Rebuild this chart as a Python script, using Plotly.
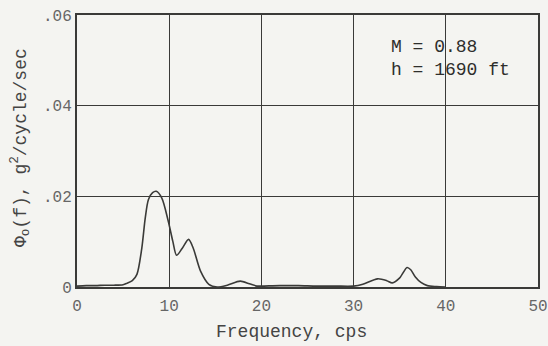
import plotly.graph_objects as go

freq = [0, 1, 2, 3, 4, 5, 5.4, 6.0, 6.5, 7.03, 7.4, 7.75, 8.2, 8.6, 9.2, 9.9, 10.4, 10.8, 11.4, 12.1, 12.6, 13.4, 14.3, 15.2, 16.3, 17.7, 18.7, 19.5, 20, 22, 24, 26, 28, 30, 31, 32.6, 33.6, 34.2, 35.0, 35.8, 36.2, 36.7, 37.3, 38, 39, 40]
psd = [0.0002, 0.0003, 0.0003, 0.0004, 0.0004, 0.0005, 0.0008, 0.0014, 0.0028, 0.0086, 0.0152, 0.0193, 0.0208, 0.0211, 0.0196, 0.0145, 0.0100, 0.0070, 0.0085, 0.0105, 0.0086, 0.0035, 0.0006, 0.0000, 0.0004, 0.0013, 0.0007, 0.0002, 0.0002, 0.0003, 0.0003, 0.0002, 0.0002, 0.0002, 0.0006, 0.0018, 0.0014, 0.0009, 0.0020, 0.0043, 0.0038, 0.0022, 0.0010, 0.0003, 0.0001, 0.0000]

x_ticks = [0, 10, 20, 30, 40, 50]
y_ticks = [0, 0.02, 0.04, 0.06]
y_labels = ["0", ".02", ".04", ".06"]

ink = "#3a3a38"
font = "Liberation Mono, DejaVu Sans Mono, monospace"

W, H = 548, 346
L, R, T, B = 77, 10, 15, 59
pw, ph = W - L - R, H - T - B

fig = go.Figure()
fig.add_trace(go.Scatter(x=freq, y=psd, mode="lines",
                         line=dict(color=ink, width=1.6, shape="spline", smoothing=0.8),
                         showlegend=False, cliponaxis=False))

fig.add_annotation(x=33.8, y=0.0555, xref="x", yref="y", xanchor="left", yanchor="top",
                   text="M = 0.88<br>h = 1690 ft", showarrow=False, align="left",
                   font=dict(family=font, size=18, color="#2e2e2c"))

fig.add_annotation(x=(291 - L) / pw, y=(H - B - 332) / ph, xref="paper", yref="paper",
                   text="Frequency, cps",
                   showarrow=False, font=dict(family=font, size=18, color="#444"),
                   xanchor="center", yanchor="middle")
fig.add_annotation(x=(20 - L) / pw, y=(H - B - 148) / ph, xref="paper", yref="paper",
                   text="Φ<sub>o</sub>(f), g<sup>2</sup>/cycle/sec", textangle=-90,
                   showarrow=False, font=dict(family=font, size=18, color="#444"),
                   xanchor="center", yanchor="middle")

fig.update_layout(
    width=W, height=H,
    margin=dict(l=L, r=R, t=T, b=B, autoexpand=False),
    paper_bgcolor="#f4f4f1", plot_bgcolor="#f4f4f1",
    font=dict(family=font, color="#555"),
    xaxis=dict(range=[0, 50], tickvals=x_ticks, ticktext=[str(v) for v in x_ticks],
               showgrid=True, gridcolor=ink, gridwidth=1, zeroline=False,
               showline=True, linecolor=ink, linewidth=2, mirror=True,
               ticks="outside", ticklen=3, tickcolor="rgba(0,0,0,0)",
               automargin=False,
               tickfont=dict(size=16, color="#666")),
    yaxis=dict(range=[0, 0.06], tickvals=y_ticks, ticktext=y_labels,
               showgrid=True, gridcolor=ink, gridwidth=1, zeroline=False,
               showline=True, linecolor=ink, linewidth=2, mirror=True,
               automargin=False,
               ticks="", tickfont=dict(size=16, color="#666")),
)

fig.write_html("out.html")
